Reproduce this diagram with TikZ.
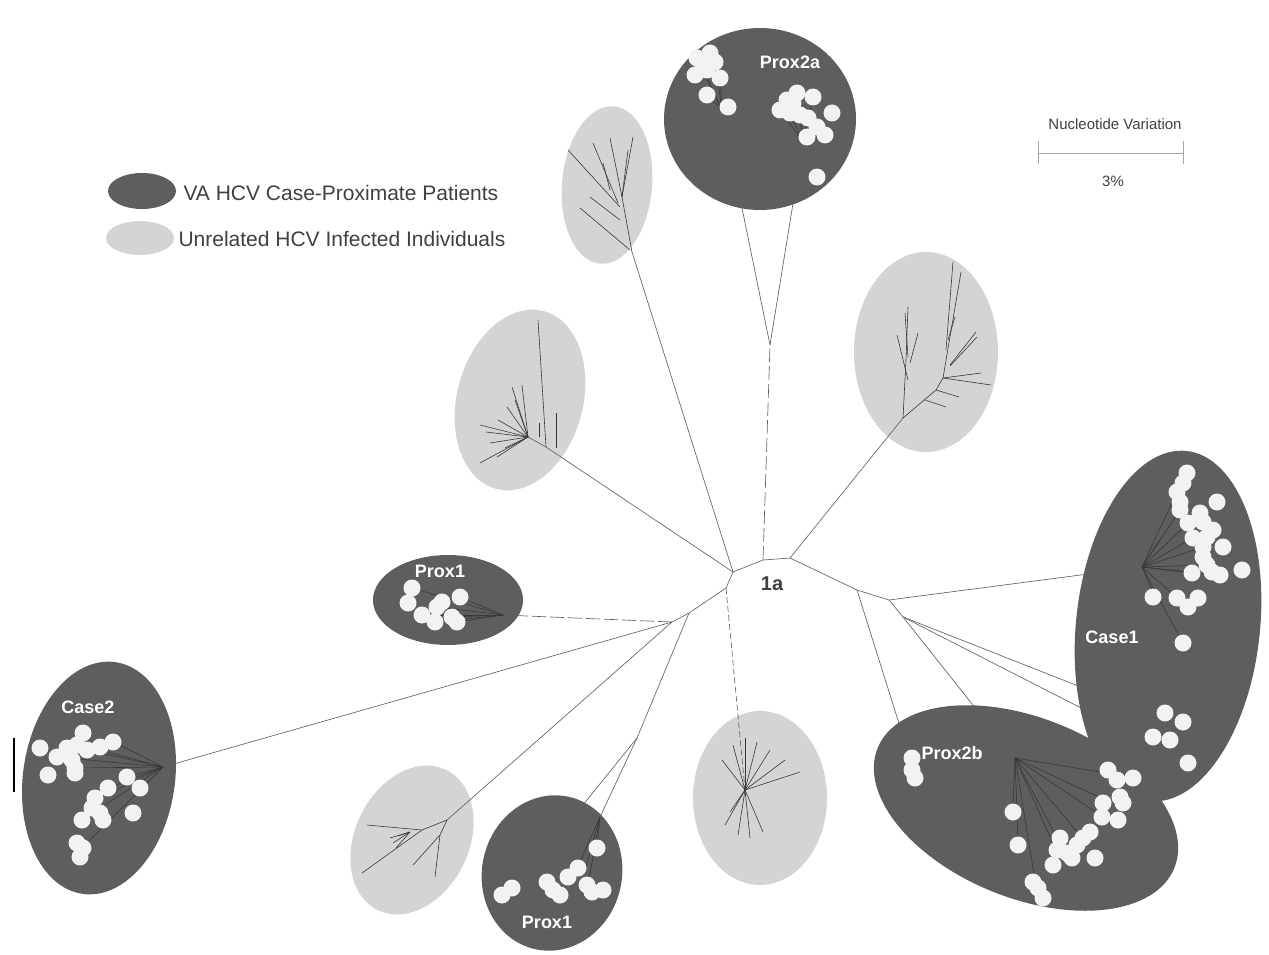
\documentclass[tikz,border=0pt]{standalone}
\usepackage{fontspec}
\setmainfont{Liberation Sans}
\definecolor{dk}{gray}{0.37}
\definecolor{lt}{gray}{0.83}
\definecolor{wd}{gray}{0.95}
\definecolor{ed}{gray}{0.38}
\definecolor{sb}{gray}{0.22}
\definecolor{tx}{gray}{0.25}
\begin{document}
\begin{tikzpicture}[x=1pt,y=-1pt,
  dkfill/.style={fill=dk},
  ltfill/.style={fill=lt},
  edge/.style={draw=ed,line width=0.65pt},
  dedge/.style={edge,dash pattern=on 14pt off 4pt},
  sub/.style={draw=sb,line width=0.6pt},
  wdot/.style={fill=wd},
  lab/.style={text=white,font=\bfseries\fontsize{18}{20}\selectfont},
  leg/.style={text=tx,font=\fontsize{21}{24}\selectfont,anchor=west},
  sc/.style={text=tx,font=\fontsize{15}{18}\selectfont}]
\useasboundingbox (0,0) rectangle (1269,955);

% ---------- clade ellipses ----------
\fill[dkfill] (760,119) ellipse (96 and 91);                                   % Prox2a
\fill[ltfill,rotate around={-5:(607,185)}] (607,185) ellipse (45 and 79);     % top-left light
\fill[ltfill,rotate around={-15:(520,400)}] (520,400) ellipse (63 and 92);    % mid-left light
\fill[ltfill] (926,352) ellipse (72 and 100);                                 % right light
\fill[dkfill,rotate around={-6:(1168,626)}] (1168,626) ellipse (92 and 176);  % Case1
\fill[dkfill,rotate around={-22:(1026,808)}] (1026,808) ellipse (160 and 90); % Prox2b
\fill[dkfill] (448,600) ellipse (75 and 45);                                  % Prox1 upper
\fill[dkfill,rotate around={-8:(99,778)}] (99,778) ellipse (76 and 117);      % Case2
\fill[ltfill,rotate around={-26:(412,840)}] (412,840) ellipse (57 and 78);    % bottom-left light
\fill[dkfill,rotate around={-12:(552,873)}] (552,873) ellipse (70 and 78);    % Prox1 lower
\fill[ltfill] (760,798) ellipse (67 and 87);                                  % bottom-mid light

% ---------- backbone coordinates ----------
\coordinate (A) at (733,572);
\coordinate (B) at (763,560);
\coordinate (C) at (790,558);
\coordinate (D) at (726,588);
\coordinate (E) at (689,613);
\coordinate (F) at (672,622);
\coordinate (G) at (857,590);
\coordinate (H) at (889,600);
\coordinate (M) at (903,617);
\coordinate (K) at (637,738);
\coordinate (P2) at (770,345);
\coordinate (L2a) at (722,110);
\coordinate (R2a) at (803,142);
\coordinate (TLr) at (632,252);
\coordinate (MLk) at (546,447);
\coordinate (MLh) at (528,437);
\coordinate (RLr) at (903,418);
\coordinate (C1h) at (1142,567);
\coordinate (P2bh) at (1015,758);
\coordinate (P2bl) at (908,752);
\coordinate (C2h) at (163,767);
\coordinate (P1h) at (503,615);
\coordinate (BLh) at (447,820);
\coordinate (BMh) at (745,790);

% ---------- backbone ----------
\draw[edge] (A) -- (B) -- (C);
\draw[edge] (A) -- (D) -- (E) -- (F);
\draw[edge] (C) -- (G) -- (H);
\draw[dedge] (B) -- (P2);
\draw[edge] (P2) -- (L2a);
\draw[edge] (P2) -- (R2a);
\draw[edge] (A) -- (TLr);
\draw[edge] (A) -- (MLk) -- (MLh);
\draw[edge] (C) -- (RLr);
\draw[edge] (H) -- (C1h);
\draw[edge] (H) -- (M) -- (P2bh);
\draw[edge] (G) -- (P2bl);
\draw[edge] (M) -- (1152,715);
\draw[edge] (M) -- (1177,757);
\draw[edge] (F) -- (C2h);
\draw[dedge] (F) -- (P1h);
\draw[edge] (F) -- (BLh);
\draw[edge] (E) -- (K);
\draw[edge] (K) -- (520,883);
\draw[edge] (K) -- (600,817);
\draw[edge,dash pattern=on 6pt off 3pt] (D) -- (BMh);

% ---------- subtrees in light clades ----------
\foreach \a/\b in {{(568,150)}/{(620,207)},{(580,208)}/{(630,250)},{(590,197)}/{(620,220)},
  {(593,143)}/{(618,203)},{(610,138)}/{(622,197)},{(633,137)}/{(622,197)},{(603,163)}/{(610,190)},
  {(632,252)}/{(622,197)},{(622,197)}/{(628,150)}}
  \draw[sub] \a -- \b;
\foreach \q in {(480,425),(480,463),(512,387),(522,385),(498,420),(507,407),(490,443),(497,457),(515,400),(486,432),(505,448)}
  \draw[sub] (MLh) -- \q;
\draw[sub] (538,320) -- (546,447);
\draw[sub] (539,423) -- (539,437);
\draw[sub] (556,413) -- (556,448);
% right light
\draw[sub] (RLr) -- (906,360) -- (908,307);
\foreach \a/\b in {{(897,335)}/{(908,380)},{(918,333)}/{(910,363)},{(905,313)}/{(908,357)}}
  \draw[sub] \a -- \b;
\draw[sub] (RLr) -- (936,390) -- (943,378) -- (961,272);
\foreach \a/\b in {{(946,350)}/{(953,262)},{(948,340)}/{(955,317)},{(950,365)}/{(976,332)},{(950,366)}/{(977,337)},
  {(943,378)}/{(981,373)},{(943,378)}/{(991,385)},{(936,390)}/{(959,397)},{(925,400)}/{(946,407)}}
  \draw[sub] \a -- \b;
% bottom-left light
\draw[sub] (BLh) -- (422,830) -- (367,825);
\draw[sub] (422,830) -- (362,873);
\foreach \q in {(390,838),(393,843),(396,848),(398,836)}
  \draw[sub] (410,832) -- \q;
\draw[sub] (BLh) -- (440,835) -- (435,877);
\draw[sub] (440,835) -- (413,865);
% bottom-mid light
\foreach \q in {(722,760),(733,745),(745,738),(757,742),(770,750),(785,760),(800,772),
  (725,825),(738,835),(750,838),(763,832),(730,812)}
  \draw[sub] (BMh) -- \q;

% ---------- subtrees in dark clades ----------
\foreach \q in {(707,95),(703,70),(715,62),(720,78),(697,58),(728,107)}
  \draw[sub] (L2a) -- \q;
\foreach \q in {(780,110),(790,113),(800,115),(808,118),(817,127),(825,135),(797,93),(813,97),(807,137)}
  \draw[sub] (R2a) -- \q;
\foreach \q in {(1177,492),(1180,510),(1188,523),(1193,538),(1203,547),(1207,565),(1220,575),
  (1192,573),(1155,597),(1177,598),(1183,643),(1160,540)}
  \draw[sub] (C1h) -- \q;
\foreach \q in {(1100,772),(1105,800),(1100,815),(1080,835),(1058,840),(1055,848),(1013,805),(1018,840),(1035,880)}
  \draw[sub] (P2bh) -- \q;
\foreach \q in {(120,745),(100,750),(87,750),(75,768),(57,757),(127,777),(108,788),(95,800),(82,820),(80,850),(140,790)}
  \draw[sub] (C2h) -- \q;
\foreach \q in {(412,588),(437,607),(460,597),(452,617),(457,622),(435,622),(422,615)}
  \draw[sub] (P1h) -- \q;
\foreach \q in {(597,848),(585,870),(572,880),(588,885)}
  \draw[sub] (600,817) -- \q;

% ---------- sequences (white dots) ----------
\foreach \p in {(697,58),(710,53),(715,62),(703,67),(695,75),(707,70),(720,78),(707,95),(728,107),
  (797,93),(813,97),(780,110),(790,113),(800,115),(808,118),(817,127),(825,135),(832,113),(807,137),(817,177),(793,103),(787,100),
  (1187,473),(1183,483),(1177,492),(1180,502),(1180,510),(1217,502),(1200,513),(1203,522),(1188,523),(1213,530),
  (1193,538),(1207,537),(1223,547),(1203,547),(1203,557),(1207,565),(1212,572),(1220,575),(1192,573),(1242,570),
  (1153,597),(1177,598),(1188,607),(1198,598),(1183,643),(1165,713),(1183,722),(1153,737),(1170,740),(1188,763),
  (912,758),(912,770),(915,778),(1108,770),(1117,780),(1133,778),(1103,803),(1120,797),(1123,803),(1102,817),
  (1118,820),(1013,812),(1090,832),(1083,838),(1077,845),(1060,838),(1057,850),(1067,853),(1072,858),(1053,865),
  (1095,858),(1018,845),(1033,882),(1038,888),(1043,898),
  (83,733),(40,748),(67,748),(77,745),(87,750),(100,747),(113,742),(57,757),(72,760),(75,768),(75,773),(48,775),
  (127,777),(108,788),(140,788),(95,798),(92,808),(100,813),(82,820),(103,820),(133,813),(77,843),(80,857),(83,848),
  (412,588),(408,603),(422,615),(437,607),(442,602),(460,597),(435,622),(452,617),(457,622),
  (502,895),(512,888),(597,848),(578,868),(568,877),(547,882),(553,890),(560,895),(587,885),(592,892),(603,890)}
  \fill[wdot] \p circle (8.5);

% ---------- clade labels ----------
\node[lab] (lP2a) at (790,62) {Prox2a};
\node[lab] (lP1u) at (440,571) {Prox1};
\node[lab] (lC2) at (88,707) {Case2};
\node[lab] (lC1) at (1112,637) {Case1};
\node[lab] (lP2b) at (952,753) {Prox2b};
\node[lab] (lP1l) at (547,922) {Prox1};
\node[text=tx,font=\bfseries\fontsize{20}{22}\selectfont] (l1a) at (772,584) {1a};

% ---------- legend ----------
\fill[dkfill] (142,191) ellipse (34 and 18);
\fill[ltfill] (140,238) ellipse (34 and 17);
\node[leg] (legdk) at (180,193) {VA HCV Case-Proximate Patients};
\node[leg] (leglt) at (175,239) {Unrelated HCV Infected Individuals};

% ---------- scale bar ----------
\node[sc] (sctitle) at (1115,124) {Nucleotide Variation};
\coordinate (s1) at (1038,153);
\coordinate (s2) at (1183,153);
\draw[gray!70,line width=0.8pt] (s1) -- (s2);
\draw[gray!70,line width=0.8pt] (1038,141) -- (1038,164);
\draw[gray!70,line width=0.8pt] (1183,141) -- (1183,164);
\node[sc] (scval) at (1113,181) {3\%};

% ---------- scan mark at left edge ----------
\draw[black,line width=2.5pt] (14,738) -- (14,792);
\end{tikzpicture}
\end{document}
